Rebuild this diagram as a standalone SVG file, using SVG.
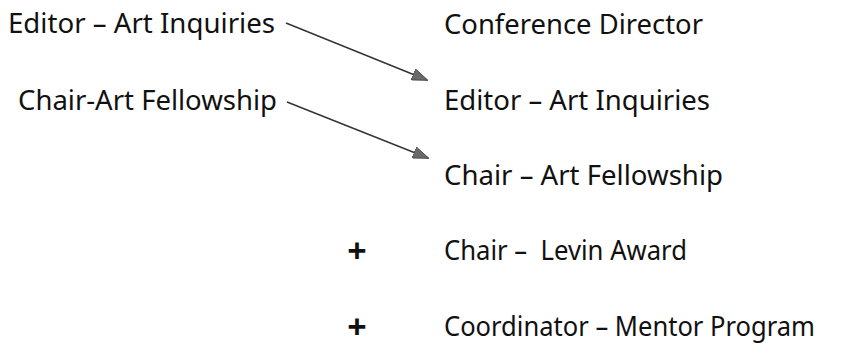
<svg xmlns="http://www.w3.org/2000/svg" width="848" height="354" viewBox="0 0 848 354">
<defs>
<style>
.t{font-family:"Noto Sans","Open Sans",sans-serif;font-size:27px;fill:#111;white-space:pre;}
.p{font-family:"Noto Sans",sans-serif;font-size:34px;font-weight:bold;fill:#111;text-anchor:middle;}
.c{stroke:#333;stroke-width:1.4;fill:none;}
</style>
<marker id="ah" viewBox="0 0 16 12" refX="15" refY="6" markerWidth="16" markerHeight="12" markerUnits="userSpaceOnUse" orient="auto">
<path d="M0,0 L16,6 L0,12 Z" fill="#6a6a6a" stroke="#444" stroke-width="0.8"/>
</marker>
</defs>
<rect width="848" height="354" fill="#fff"/>
<g id="left-editor"><text class="t" x="8" y="33" textLength="267" lengthAdjust="spacingAndGlyphs">Editor – Art Inquiries</text></g>
<g id="left-chair"><text class="t" x="18" y="110" textLength="259" lengthAdjust="spacingAndGlyphs">Chair-Art Fellowship</text></g>
<g id="conference-director"><text class="t" x="444" y="34" textLength="259" lengthAdjust="spacingAndGlyphs">Conference Director</text></g>
<g id="right-editor"><text class="t" x="444" y="110" textLength="266" lengthAdjust="spacingAndGlyphs">Editor – Art Inquiries</text></g>
<g id="right-chair"><text class="t" x="444" y="185" textLength="279" lengthAdjust="spacingAndGlyphs">Chair – Art Fellowship</text></g>
<g id="levin"><text class="p" x="357" y="263">+</text><text class="t" x="444" y="260" textLength="243" lengthAdjust="spacingAndGlyphs" xml:space="preserve">Chair –  Levin Award</text></g>
<g id="mentor"><text class="p" x="357" y="339">+</text><text class="t" x="444" y="336" textLength="371" lengthAdjust="spacingAndGlyphs">Coordinator – Mentor Program</text></g>
<g id="connectors">
<line class="c" x1="286" y1="23" x2="427" y2="80" marker-end="url(#ah)"/>
<line class="c" x1="287" y1="102" x2="428" y2="158" marker-end="url(#ah)"/>
</g>
</svg>
